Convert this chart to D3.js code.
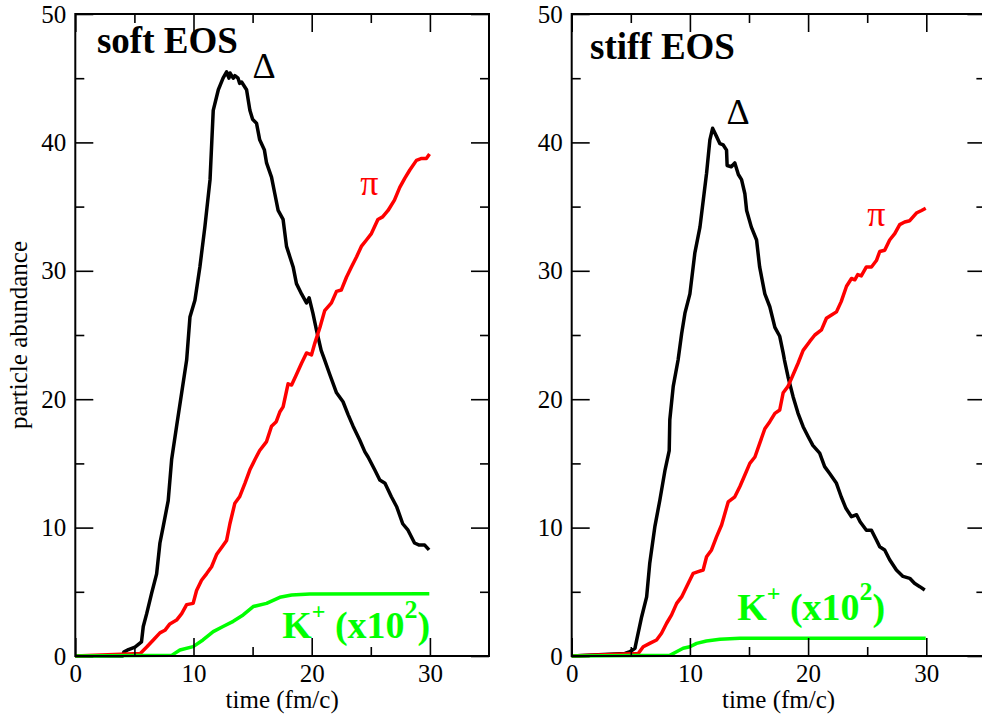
<!DOCTYPE html>
<html>
<head>
<meta charset="utf-8">
<script src="https://cdn.jsdelivr.net/npm/d3@7"></script>
<style>
  body { margin: 0; background: #fff; }
  svg { display: block; }
  text { font-family: "Liberation Serif", "Times New Roman", serif; }
</style>
</head>
<body>
<div id="chart"></div>
<script>
// Particle abundance vs time (t in fm/c)
const softDelta = [[0,0],[4.0,0],[4.1,0.3],[4.5,0.5],[5.05,0.7],[5.6,1.1],[5.75,2.3],[6.04,3.3],[6.46,4.9],[6.88,6.4],[7.16,8.8],[7.44,10.1],[7.86,12.1],[8.15,15.3],[8.57,17.9],[9.0,20.5],[9.42,23.05],[9.7,26.4],[10.12,27.7],[10.54,30.3],[10.96,33.4],[11.4,37.1],[11.67,42.5],[12.1,44.1],[12.5,45.0],[12.8,45.5],[13.0,45.0],[13.1,45.4],[13.36,45.0],[13.5,45.2],[13.77,45.0],[13.9,44.6],[14.07,44.7],[14.49,44.1],[14.77,42.5],[15.0,41.8],[15.33,41.5],[15.6,40.2],[16.0,39.4],[16.18,38.4],[16.6,37.3],[16.88,36.0],[17.16,34.7],[17.58,34.0],[17.87,31.9],[18.15,31.1],[18.43,30.3],[18.71,29.0],[19.14,28.2],[19.56,27.5],[19.78,27.9],[20.1,26.7],[20.4,25.4],[20.8,23.8],[21.1,23.05],[21.5,22.0],[22.1,20.5],[22.65,19.8],[23.08,18.8],[23.5,17.9],[24.07,16.8],[24.5,15.9],[24.77,15.5],[25.33,14.5],[25.76,13.7],[26.2,13.45],[26.74,12.4],[27.2,11.6],[27.7,10.3],[28.15,9.8],[28.7,8.8],[29.1,8.64],[29.56,8.64],[29.93,8.26]];
const softPi = [[0,0],[5.5,0.2],[6.04,0.7],[6.6,1.25],[7.16,1.8],[7.58,2.0],[8.0,2.5],[8.57,2.8],[9.0,3.3],[9.42,4.0],[9.97,4.1],[10.26,5.1],[10.68,5.9],[11.1,6.4],[11.53,6.95],[11.95,7.9],[12.5,8.6],[12.8,9.0],[13.08,10.3],[13.5,11.9],[13.9,12.4],[14.35,13.45],[14.77,14.5],[15.2,15.3],[15.6,16.0],[16.18,16.7],[16.6,17.9],[17.0,18.25],[17.3,19.0],[17.58,19.4],[18.0,21.2],[18.3,21.1],[18.7,21.9],[19.14,22.8],[19.56,23.6],[19.98,23.45],[20.26,24.35],[20.7,25.6],[21.1,26.9],[21.67,27.5],[22.1,28.4],[22.5,28.5],[22.94,29.5],[23.36,30.3],[23.8,31.1],[24.2,31.9],[24.63,32.4],[25.05,32.9],[25.6,34.0],[26.0,34.2],[26.46,34.7],[27.0,35.5],[27.45,36.5],[27.87,37.2],[28.3,37.85],[28.86,38.6],[29.3,38.75],[29.7,38.75],[29.97,39.1]];
const softKaon = [[0,0],[8.15,0.05],[8.85,0.47],[9.97,0.73],[10.8,1.25],[11.67,1.9],[12.5,2.3],[13.36,2.7],[14.2,3.2],[15.05,3.85],[16.18,4.1],[17.3,4.57],[18.3,4.75],[19.84,4.83],[29.95,4.85]];

const stiffDelta = [[0,0],[4.5,0.2],[4.93,0.33],[5.35,0.6],[5.5,1.25],[5.92,3.06],[6.34,4.6],[6.6,7.2],[7.04,10.1],[7.46,12.15],[7.9,14.5],[8.25,16.0],[8.3,18.4],[8.59,21.0],[9.0,23.05],[9.3,25.1],[9.58,26.7],[10.0,28.2],[10.42,31.4],[10.85,33.4],[11.13,35.5],[11.41,37.6],[11.69,40.2],[11.92,41.1],[12.26,40.45],[12.54,39.9],[12.82,39.8],[13.1,39.4],[13.15,38.2],[13.5,38.1],[13.8,38.4],[14.1,37.5],[14.37,37.1],[14.65,36.0],[14.8,34.7],[15.2,33.4],[15.64,32.4],[15.9,30.3],[16.34,28.2],[16.76,27.2],[17.19,25.6],[17.6,24.9],[17.89,23.6],[18.0,23.05],[18.3,21.75],[18.73,20.2],[19.15,18.9],[19.58,17.86],[20.0,17.1],[20.4,16.4],[20.98,15.8],[21.4,14.75],[21.84,14.2],[22.4,13.45],[22.8,12.4],[23.2,11.5],[23.67,10.85],[24.1,11.0],[24.4,10.46],[24.93,9.8],[25.36,9.8],[25.8,9.0],[26.06,8.5],[26.48,8.26],[26.9,7.5],[27.47,6.7],[28.03,6.2],[28.6,6.05],[29.0,5.66],[29.45,5.4],[29.87,5.14]];
const stiffPi = [[0,0],[5.63,0.2],[6.05,0.72],[6.6,0.98],[7.18,1.25],[7.6,1.77],[8.03,2.55],[8.45,3.2],[8.88,4.1],[9.3,4.6],[9.72,5.4],[10.28,6.44],[10.7,6.57],[11.12,6.7],[11.41,7.73],[11.83,8.26],[12.26,9.3],[12.68,10.2],[12.96,11.1],[13.24,12.0],[13.8,12.4],[14.23,13.2],[14.65,14.1],[15.07,15.0],[15.5,15.5],[15.92,16.6],[16.34,17.7],[16.76,18.25],[17.19,18.9],[17.6,19.16],[17.89,20.5],[18.3,21.0],[18.73,21.9],[19.15,22.8],[19.58,23.8],[20.14,24.5],[20.57,25.0],[21.13,25.4],[21.55,26.3],[21.98,26.55],[22.4,26.8],[22.8,27.6],[23.25,28.8],[23.67,29.4],[23.95,29.3],[24.2,29.7],[24.5,29.6],[24.93,30.3],[25.36,30.3],[25.78,30.8],[26.06,31.5],[26.48,31.6],[26.9,32.4],[27.33,32.9],[27.75,33.6],[28.17,33.8],[28.6,33.9],[29.16,34.5],[29.6,34.7],[29.95,34.87]];
const stiffKaon = [[0,0],[8.3,0.05],[8.87,0.33],[9.43,0.6],[10.0,0.72],[10.57,0.98],[11.4,1.17],[12.54,1.3],[14.23,1.38],[29.95,1.38]];

// Tick values
const xMajor = [0, 10, 20, 30];
const xMinor = [5, 15, 25];
const yMajor = [0, 10, 20, 30, 40, 50];
const yMinor = [5, 15, 25, 35, 45];

const W = 982, H = 719;
const panelW = 413.7, plotTop = 14, plotBottom = 656;
const panels = [
  { left: 75.3, title: "soft EOS", delta: softDelta, pi: softPi, kaon: softKaon,
    titleAt: [1.83, 47.0], deltaAt: [15.0, 45.0], piAt: [24.1, 35.9], kaonAt: [17.5, 1.4], yLabel: true },
  { left: 571.7, title: "stiff EOS", delta: stiffDelta, pi: stiffPi, kaon: stiffKaon,
    titleAt: [1.55, 46.5], deltaAt: [13.1, 41.4], piAt: [25.0, 33.5], kaonAt: [14.0, 2.8], yLabel: false }
];

const svg = d3.select("#chart").append("svg")
  .attr("width", W)
  .attr("height", H);

function drawPanel(p) {
  const g = svg.append("g").attr("transform", `translate(${p.left},0)`);
  const x = d3.scaleLinear().domain([0, 35]).range([0, panelW]);
  const y = d3.scaleLinear().domain([0, 50]).range([plotBottom, plotTop]);

  const line = d3.line().x(d => x(d[0])).y(d => y(d[1]));

  // curves
  g.append("path").datum(p.delta).attr("d", line)
    .attr("fill", "none").attr("stroke", "#000").attr("stroke-width", 3.5).attr("stroke-linejoin", "round");
  g.append("path").datum(p.pi).attr("d", line)
    .attr("fill", "none").attr("stroke", "#ff0000").attr("stroke-width", 3.5).attr("stroke-linejoin", "round");
  g.append("path").datum(p.kaon).attr("d", line)
    .attr("fill", "none").attr("stroke", "#00ff00").attr("stroke-width", 3.5).attr("stroke-linejoin", "round");

  // axes (ticks inward on all sides)
  const axStyle = sel => {
    sel.select(".domain").remove();
    sel.selectAll("line").attr("stroke", "#000").attr("stroke-width", 1.6);
    sel.selectAll("text").attr("font-size", 25).attr("fill", "#000")
      .style("font-family", '"Liberation Serif", "Times New Roman", serif');
  };

  g.append("g").attr("transform", `translate(0,${plotBottom})`)
    .call(d3.axisBottom(x).tickValues(xMajor).tickSize(-18).tickPadding(8).tickFormat(d3.format("d"))).call(axStyle);
  g.append("g").attr("transform", `translate(0,${plotBottom})`)
    .call(d3.axisBottom(x).tickValues(xMinor).tickSize(-9).tickFormat("")).call(axStyle);
  g.append("g").attr("transform", `translate(0,${plotTop})`)
    .call(d3.axisTop(x).tickValues(xMajor).tickSize(-18).tickFormat("")).call(axStyle);
  g.append("g").attr("transform", `translate(0,${plotTop})`)
    .call(d3.axisTop(x).tickValues(xMinor).tickSize(-9).tickFormat("")).call(axStyle);

  g.append("g")
    .call(d3.axisLeft(y).tickValues(yMajor).tickSize(-18).tickPadding(9).tickFormat(d3.format("d"))).call(axStyle);
  g.append("g")
    .call(d3.axisLeft(y).tickValues(yMinor).tickSize(-9).tickFormat("")).call(axStyle);
  g.append("g").attr("transform", `translate(${panelW},0)`)
    .call(d3.axisRight(y).tickValues(yMajor).tickSize(-18).tickFormat("")).call(axStyle);
  g.append("g").attr("transform", `translate(${panelW},0)`)
    .call(d3.axisRight(y).tickValues(yMinor).tickSize(-9).tickFormat("")).call(axStyle);

  // frame
  g.append("rect")
    .attr("x", 0).attr("y", plotTop)
    .attr("width", panelW).attr("height", plotBottom - plotTop)
    .attr("fill", "none").attr("stroke", "#000").attr("stroke-width", 2);

  // annotations
  g.append("text")
    .attr("x", x(p.titleAt[0])).attr("y", y(p.titleAt[1]))
    .attr("font-size", 37).attr("font-weight", "bold")
    .text(p.title);

  g.append("text")
    .attr("x", x(p.deltaAt[0])).attr("y", y(p.deltaAt[1]))
    .attr("font-size", 36)
    .text("Δ");

  g.append("text")
    .attr("x", x(p.piAt[0])).attr("y", y(p.piAt[1]))
    .attr("font-size", 36).attr("fill", "#ff0000")
    .text("π");

  const k = g.append("text")
    .attr("x", x(p.kaonAt[0])).attr("y", y(p.kaonAt[1]))
    .attr("font-size", 38).attr("font-weight", "bold").attr("fill", "#00ff00");
  k.append("tspan").text("K");
  k.append("tspan").attr("font-size", 24).attr("dy", -19).text("+");
  k.append("tspan").attr("dy", 19).text(" (x10");
  k.append("tspan").attr("font-size", 26).attr("dy", -20).text("2");
  k.append("tspan").attr("dy", 20).text(")");

  // axis labels
  g.append("text")
    .attr("x", panelW / 2).attr("y", 708)
    .attr("text-anchor", "middle").attr("font-size", 25)
    .text("time (fm/c)");

  if (p.yLabel) {
    g.append("text")
      .attr("transform", `translate(${27 - p.left},${(plotTop + plotBottom) / 2}) rotate(-90)`)
      .attr("text-anchor", "middle").attr("font-size", 25)
      .text("particle abundance");
  }
}

panels.forEach(drawPanel);
</script>
</body>
</html>
